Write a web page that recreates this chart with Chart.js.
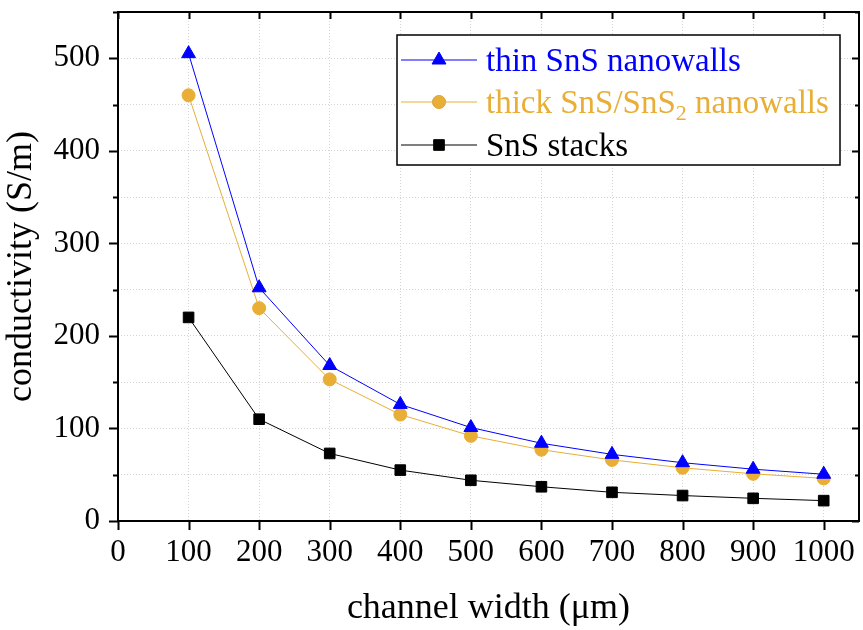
<!DOCTYPE html>
<html>
<head>
<meta charset="utf-8">
<script src="https://cdn.jsdelivr.net/npm/chart.js@4/dist/chart.umd.min.js"></script>
<style>
html,body{margin:0;padding:0;background:#fff;}
#wrap{position:relative;width:863px;height:630px;}
</style>
</head>
<body>
<div id="wrap"><canvas id="c" width="863" height="630"></canvas></div>
<script>
// ---- data ----
const channelWidths = [100, 200, 300, 400, 500, 600, 700, 800, 900, 1000];
const thinSnS = [505, 252, 168, 126, 101, 84, 72, 63, 56, 50.5];
const thickSnS = [460, 230, 153, 115, 92, 77, 66, 57.5, 51, 46];
const stacksSnS = [220, 110, 73, 55, 44, 37, 31, 27.5, 24.5, 22];
const seriesLabels = ['thin SnS nanowalls', 'thick SnS/SnS', 'SnS stacks'];
const seriesSub = ['', '2', ''];
const seriesSuffix = ['', ' nanowalls', ''];
const xTicks = [0, 100, 200, 300, 400, 500, 600, 700, 800, 900, 1000];
const yTicks = [0, 100, 200, 300, 400, 500];

const FONT = '"Liberation Serif", "Times New Roman", serif';
const BLUE = '#0000ff', ORANGE = '#e8ae35', BLACK = '#000000';

function pts(ys){ return channelWidths.map((x,i)=>({x:x, y:ys[i]})); }

const frame = {
  id: 'frame',
  afterDraw(chart){
    const {ctx, chartArea:a, scales} = chart;
    const xs = scales.x, ys = scales.y;
    ctx.save();
    ctx.strokeStyle = '#000';
    ctx.lineWidth = 2;
    ctx.strokeRect(a.left, a.top, a.right - a.left, a.bottom - a.top);
    ctx.lineWidth = 2;
    ctx.beginPath();
    for (let v = 0; v <= 550; v += 50) {
      const p = Math.round(ys.getPixelForValue(v)) + 0.5;
      const major = v % 100 === 0;
      const L = major ? 9 : 5;
      ctx.moveTo(a.left - L, p); ctx.lineTo(a.left, p);
      ctx.moveTo(a.right, p); ctx.lineTo(a.right - (major ? 7 : 4), p);
    }
    for (const v of xTicks) {
      const p = Math.round(xs.getPixelForValue(v)) + 0.5;
      ctx.moveTo(p, a.bottom); ctx.lineTo(p, a.bottom + 9);
      ctx.moveTo(p, a.top); ctx.lineTo(p, a.top + 7);
    }
    ctx.stroke();
    ctx.restore();
  }
};

const legendBox = {
  id: 'legendBox',
  afterDraw(chart){
    const ctx = chart.ctx;
    const x0 = 397, y0 = 35, w = 443, h = 130;
    ctx.save();
    ctx.fillStyle = '#fff';
    ctx.fillRect(x0, y0, w, h);
    ctx.strokeStyle = '#000';
    ctx.lineWidth = 1.5;
    ctx.strokeRect(x0, y0, w, h);
    const rows = [60, 102, 145];
    chart.data.datasets.forEach((ds, i) => {
      const y = rows[i];
      ctx.strokeStyle = ds.borderColor;
      ctx.lineWidth = 1;
      ctx.beginPath(); ctx.moveTo(401, y); ctx.lineTo(477, y); ctx.stroke();
      Chart.helpers.drawPoint(ctx, {pointStyle: ds.pointStyle, radius: ds.pointRadius, rotation: 0, borderWidth: 1}, 439, y);
      ctx.fillStyle = ds.borderColor;
      ctx.fill();
      ctx.fillStyle = ds.borderColor;
      ctx.textBaseline = 'alphabetic';
      ctx.textAlign = 'left';
      ctx.font = '33px ' + FONT;
      let tx = 486;
      const base = y + 11;
      ctx.fillText(seriesLabels[i], tx, base);
      tx += ctx.measureText(seriesLabels[i]).width;
      if (seriesSub[i]) {
        ctx.font = '22px ' + FONT;
        ctx.fillText(seriesSub[i], tx, base + 7);
        tx += ctx.measureText(seriesSub[i]).width;
        ctx.font = '33px ' + FONT;
      }
      if (seriesSuffix[i]) ctx.fillText(seriesSuffix[i], tx, base);
    });
    ctx.restore();
  }
};

new Chart(document.getElementById('c'), {
  type: 'line',
  data: {
    datasets: [
      {label: seriesLabels[0], data: pts(thinSnS), borderColor: BLUE, backgroundColor: BLUE, pointStyle: 'triangle', pointRadius: 8, borderWidth: 1, pointBorderWidth: 1},
      {label: seriesLabels[1] + seriesSub[1] + seriesSuffix[1], data: pts(thickSnS), borderColor: ORANGE, backgroundColor: ORANGE, pointStyle: 'circle', pointRadius: 6.5, borderWidth: 1, pointBorderWidth: 1},
      {label: seriesLabels[2], data: pts(stacksSnS), borderColor: BLACK, backgroundColor: BLACK, pointStyle: 'rect', pointRadius: 7.5, borderWidth: 1, pointBorderWidth: 1}
    ]
  },
  options: {
    responsive: false,
    animation: false,
    devicePixelRatio: 1,
    layout: {autoPadding: false, padding: {top: 12, right: 4, left: 0, bottom: 0}},
    plugins: {legend: {display: false}, tooltip: {enabled: false}},
    elements: {line: {tension: 0}},
    scales: {
      x: {
        type: 'linear', min: 0, max: 1050,
        afterFit(s){ s.height = 109; s.paddingLeft = 0; s.paddingRight = 0; },
        afterBuildTicks(s){ s.ticks = xTicks.map(v => ({value: v})); },
        border: {display: false, dash: [1, 2]},
        grid: {color: '#d4d4d4', lineWidth: 1, drawTicks: false},
        ticks: {color: '#000', font: {family: FONT, size: 31}, padding: 13, maxRotation: 0, autoSkip: false,
          callback: (v) => String(v)},
        title: {display: true, text: 'channel width (μm)', color: '#000', font: {family: FONT, size: 36}, padding: {top: 16, bottom: 0}}
      },
      y: {
        type: 'linear', min: 0, max: 550,
        afterFit(s){ s.width = 118; s.paddingTop = 0; s.paddingBottom = 0; },
        afterBuildTicks(s){ const t=[]; for(let v=0; v<=550; v+=50) t.push({value:v}); s.ticks = t; },
        border: {display: false, dash: [1, 2]},
        grid: {color: '#d4d4d4', lineWidth: 1, drawTicks: false},
        ticks: {color: '#000', font: {family: FONT, size: 31}, padding: 18, autoSkip: false,
          callback: (v) => yTicks.includes(v) ? String(v) : ''},
        title: {display: true, text: 'conductivity (S/m)', color: '#000', font: {family: FONT, size: 36}, padding: {top: 0, bottom: 6}}
      }
    }
  },
  plugins: [frame, legendBox]
});
</script>
</body>
</html>
